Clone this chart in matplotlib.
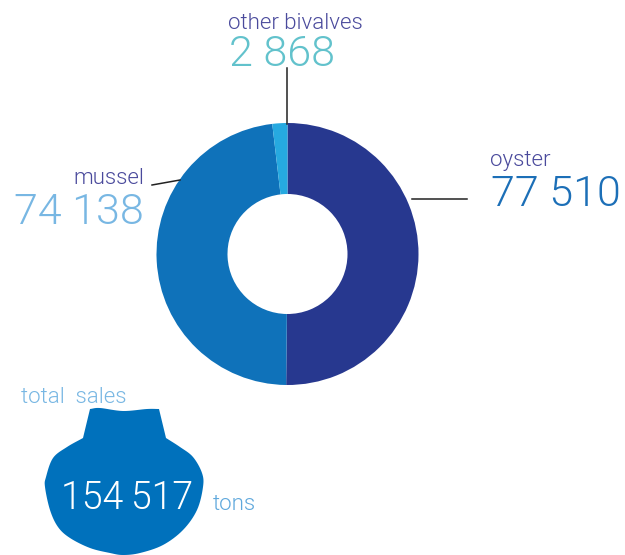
import numpy as np
import matplotlib
matplotlib.use("Agg")
import matplotlib.pyplot as plt
from matplotlib.patches import Polygon

categories = ["oyster", "mussel", "other bivalves"]
values = [77510, 74138, 2868]
value_labels = ["77 510", "74 138", "2 868"]
total_label = "154\u2009517"
colors = ["#27388F", "#0F72BA", "#26A9E0"]

W, H = 625, 555
fig = plt.figure(figsize=(W / 100, H / 100), dpi=100, facecolor="white")
plt.rcParams["font.family"] = ["Roboto", "DejaVu Sans"]

bg = fig.add_axes([0, 0, 1, 1])
bg.set_xlim(0, W)
bg.set_ylim(H, 0)
bg.axis("off")
bg.set_zorder(3)

# donut
cx, cy, r = 287.5, 254, 131
pie_ax = fig.add_axes([(cx - r) / W, 1 - (cy + r) / H, 2 * r / W, 2 * r / H])
pie_ax.pie(values, colors=colors, startangle=90, counterclock=False, radius=1,
           wedgeprops=dict(width=71 / 131, linewidth=0))
pie_ax.set_xlim(-1, 1)
pie_ax.set_ylim(-1, 1)
pie_ax.set_aspect("equal")

# leader lines
bg.plot([412, 467], [199, 199], color="#222222", lw=1.1)
bg.plot([152, 180], [185, 180], color="#222222", lw=1.1)
bg.plot([286.5, 286.5], [68, 124], color="#222222", lw=1.1)

PURPLE = "#4A4A9C"
LIGHT = "#78B7E3"
kw = dict(fontweight=300, va="baseline")
LBL = 16
NUM = 31
bg.text(490, 166, categories[0], ha="left", fontsize=LBL, color=PURPLE, **kw)
bg.text(621, 206, value_labels[0], ha="right", fontsize=NUM, color="#1C6FB7", **kw)
bg.text(144, 184, categories[1], ha="right", fontsize=LBL, color=PURPLE, **kw)
bg.text(144, 224, value_labels[1], ha="right", fontsize=NUM, color=LIGHT, **kw)
bg.text(228, 29, categories[2], ha="left", fontsize=LBL, color=PURPLE, **kw)
bg.text(229, 66, value_labels[2], ha="left", fontsize=NUM, color="#62C2CC", **kw)


def smooth(pts, n=8):
    """Catmull-Rom curve through an open run of outline points."""
    p = np.array(pts, float)
    p = np.vstack([2 * p[0] - p[1], p, 2 * p[-1] - p[-2]])
    out = []
    for i in range(1, len(p) - 2):
        for t in np.linspace(0, 1, n, endpoint=False):
            out.append(0.5 * (2 * p[i] + (p[i + 1] - p[i - 1]) * t
                              + (2 * p[i - 1] - 5 * p[i] + 4 * p[i + 1] - p[i + 2]) * t ** 2
                              + (3 * p[i] - p[i - 1] - 3 * p[i + 1] + p[i + 2]) * t ** 3))
    out.append(p[-2])
    return out


# shell outline: hinge top, hinge sides, rounded body
top = [(90, 409), (100, 408), (123, 411), (147, 409), (159, 409)]
body = [(166, 438), (180, 447), (193, 457), (202, 473), (203, 487), (197, 510),
        (183, 530), (163, 545), (140, 553), (123, 555), (110, 553), (90, 548),
        (70, 538), (58, 527), (50, 510), (45, 487), (46, 477), (53, 458),
        (67, 447), (83, 438)]
shell = np.array(smooth(top) + smooth(body))
bg.add_patch(Polygon(shell, closed=True, facecolor="#0071BC", edgecolor="none"))
bg.text(21, 403, "total  sales", ha="left", fontsize=LBL, color=LIGHT, **kw)
bg.text(127, 509, total_label, ha="center", fontsize=27, color="white", **kw)
bg.text(213, 510, "tons", ha="left", fontsize=LBL, color="#5FA8DC", **kw)

fig.savefig("out.png", dpi=100, facecolor="white")
